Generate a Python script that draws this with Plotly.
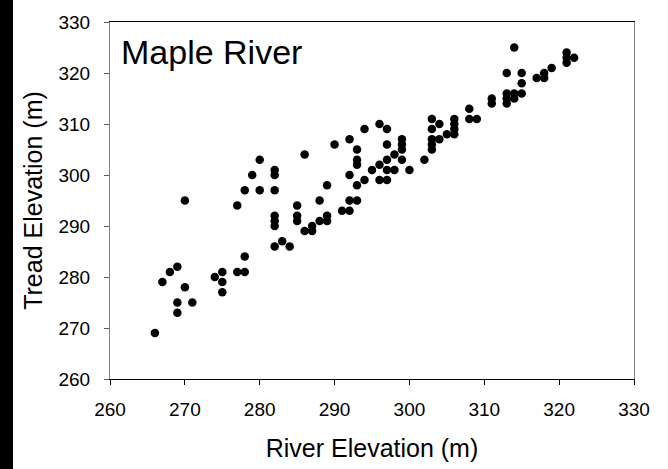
import plotly.graph_objects as go

river_elev = [266, 267, 268, 269, 270, 270, 269, 271, 269, 274, 275, 275, 275, 277, 278, 278,
              277, 278, 279, 280, 280, 282, 282, 282, 282, 282, 282, 282, 283, 284, 285, 285,
              285, 286, 287, 287, 288, 289, 289, 288, 289, 286, 290, 291, 292, 292, 293, 292,
              293, 294, 292, 293, 293, 293, 294, 295, 296, 296, 297, 296, 297, 297, 297, 297,
              298, 298, 299, 299, 299, 299, 300, 302, 303, 303, 304, 303, 303, 303, 304, 305,
              306, 306, 306, 306, 308, 308, 309, 311, 311, 313, 313, 313, 313, 314, 314, 315,
              315, 315, 314, 317, 318, 318, 319, 321, 321, 322, 321]
tread_elev = [269, 279, 281, 282, 278, 295, 275, 275, 273, 280, 281, 279, 277, 281, 281, 284,
              294, 297, 300, 303, 297, 301, 300, 297, 292, 291, 290, 286, 287, 286, 294, 292,
              291, 289, 289, 290, 291, 291, 292, 295, 298, 304, 306, 293, 293, 295, 295, 300,
              298, 299, 307, 305, 303, 302, 309, 301, 302, 299, 299, 310, 309, 306, 303, 301,
              301, 304, 307, 306, 305, 303, 301, 303, 311, 309, 310, 307, 306, 305, 307, 308,
              308, 309, 310, 311, 313, 311, 311, 315, 314, 320, 316, 315, 314, 316, 315, 316,
              318, 320, 325, 319, 319, 320, 321, 324, 323, 323, 322]

x_ticks = [260, 270, 280, 290, 300, 310, 320, 330]
y_ticks = [260, 270, 280, 290, 300, 310, 320, 330]

FONT = "Liberation Sans, Arial, sans-serif"

fig = go.Figure()
fig.add_trace(go.Scatter(
    x=river_elev, y=tread_elev, mode="markers",
    marker=dict(color="black", size=8.5, line=dict(width=0)),
    showlegend=False, hoverinfo="x+y",
))

fig.update_layout(
    width=668, height=469,
    margin=dict(l=110, r=34, t=16, b=86, pad=0),
    paper_bgcolor="white", plot_bgcolor="white",
    font=dict(family=FONT, color="black", size=19),
    xaxis=dict(
        range=[260, 330], tickvals=x_ticks, ticktext=[str(v) for v in x_ticks],
        showgrid=False, zeroline=False, showline=True, linecolor="black", linewidth=1,
        mirror=True, ticks="outside", ticklen=5, tickcolor="black", tickwidth=1,
        tickfont=dict(size=19), ticklabelstandoff=8,
        title=dict(text="River Elevation (m)", font=dict(size=25), standoff=20),
    ),
    yaxis=dict(
        range=[260, 330], tickvals=y_ticks, ticktext=[str(v) for v in y_ticks],
        showgrid=False, zeroline=False, showline=True, linecolor="#808080", linewidth=1,
        mirror=True, ticks="outside", ticklen=5, tickcolor="#606060", tickwidth=1,
        tickfont=dict(size=19), ticklabelstandoff=10,
        title=dict(text="Tread Elevation (m)", font=dict(size=25), standoff=8),
    ),
    annotations=[dict(
        text="Maple River", xref="paper", yref="paper", x=0.018, y=(383 - 47) / 367,
        xanchor="left", yanchor="middle", showarrow=False,
        font=dict(size=34, family=FONT, color="black"),
    )],
    shapes=[dict(
        type="rect", xref="paper", yref="paper",
        x0=-110 / 524, x1=(13 - 110) / 524, y0=-0.3, y1=1.1,
        fillcolor="black", line=dict(width=0), layer="above",
    )],
)

fig.write_html("out.html")
